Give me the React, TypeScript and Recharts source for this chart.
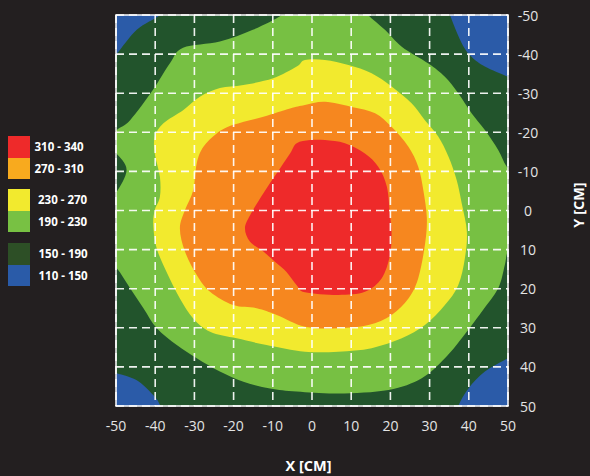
import { CartesianGrid, ReferenceArea, Scatter, ScatterChart, XAxis, YAxis } from 'recharts';

type Pt = { x: number; y: number };

const TICKS = [-50, -40, -30, -20, -10, 0, 10, 20, 30, 40, 50];

const LEGEND_LABELS = ['310 - 340', '270 - 310', '230 - 270', '190 - 230', '150 - 190', '110 - 150'];
const LEGEND_COLORS = ['#ee2a2a', '#f8aa1e', '#f2ea2e', '#78c143', '#2d4f26', '#2a5ba8'];

// contour outlines, [x cm, y cm], y grows downward like the chart
const PLATE: [number, number][] = [[-70, -70], [70, -70], [70, 70], [-70, 70]];

const CORNER_TL: [number, number][] = [[-53, -36.5], [-50, -39.8], [-44.7, -46.2], [-38.8, -50], [-36.8, -53], [-60, -60]];
const CORNER_TR: [number, number][] = [[34.5, -53], [35.2, -50], [38.2, -42.8], [40.7, -39.3], [44.1, -36.8], [50, -34.2], [53, -33], [60, -60]];
const CORNER_BR: [number, number][] = [[53, 36.5], [50, 37.8], [44.1, 41.2], [39.9, 45.5], [37.3, 50], [36.5, 53], [60, 60]];
const CORNER_BL: [number, number][] = [[-53, 40.8], [-49.8, 41.6], [-44.7, 43.4], [-40.5, 47.2], [-38.8, 49.7], [-37.8, 53], [-60, 60]];

const LEVEL_190: [number, number][] = [
  [-49.8, -20.6], [-46.4, -23.1], [-40.6, -30.8], [-36.2, -37.7], [-32.9, -41.6], [-23.5, -43.2],
  [-15.1, -46.2], [-7.7, -50], [-5, -53], [12, -53], [14.3, -50], [18.6, -46.2], [22.9, -41.9],
  [29.7, -37.6], [33.9, -34.2], [37.3, -30.0], [40.7, -24.9], [44.1, -20.6], [47.5, -15.5],
  [49.7, -11.2], [53, -8], [53, 8], [50, 10.5], [49.2, 13.9], [47.5, 19.9], [43.3, 25.9],
  [38.2, 32.7], [33.9, 37.8], [28.0, 42.9], [19.5, 45.9], [6.7, 46.8], [-3.9, 46.3], [-10.7, 45.5],
  [-17.5, 43.8], [-23.5, 41.2], [-29.4, 37.8], [-34.5, 34.4], [-39.6, 30.1], [-43.0, 25.0],
  [-46.4, 19.9], [-49.8, 14.8], [-53, 12], [-53, -2], [-50, -4.5], [-47.3, -10.4], [-50, -14.7], [-53, -17],
];

const LEVEL_230: [number, number][] = [
  [-1.8, -38.5], [3.3, -38.5], [9.3, -37.2], [15.2, -35.1], [20.3, -31.7], [25.4, -27.4], [28.8, -23.1],
  [32.2, -18.9], [34.8, -13.8], [36.9, -7.8], [38.2, -1.8], [39.5, 5.4], [39.0, 12.2], [37.3, 19.1],
  [33.9, 24.2], [28.8, 29.3], [22.9, 32.7], [15.2, 35.2], [6.7, 36.1], [-1.8, 36.1], [-11.6, 34.4],
  [-19.2, 32.7], [-26.0, 31.0], [-30.3, 27.6], [-33.7, 22.5], [-37.1, 15.7], [-39.6, 9.7], [-40.5, 3.7],
  [-40.1, -0.1], [-38.8, -3.5], [-38.8, -8.6], [-40.1, -14.6], [-40.1, -18.9], [-37.9, -22.3],
  [-32.8, -25.7], [-28.6, -29.1], [-23.5, -31.3], [-17.5, -32.1], [-9.9, -33.8], [-3.9, -36.8],
];

const LEVEL_270: [number, number][] = [
  [-1.8, -27.0], [3.3, -27.8], [10.1, -26.5], [16.1, -24.9], [20.3, -21.4], [24.6, -16.3], [27.1, -11.2],
  [28.4, -5.2], [29.3, 2.0], [28.8, 8.8], [27.1, 17.3], [24.6, 22.5], [20.3, 26.7], [14.4, 29.3],
  [6.7, 30.1], [-1.8, 29.7], [-9.0, 26.7], [-14.1, 25.0], [-20.1, 24.2], [-26.0, 20.8], [-29.4, 16.5],
  [-32.4, 10.5], [-33.7, 4.6], [-32.4, -0.1], [-30.3, -5.2], [-29.4, -12.1], [-27.7, -16.3],
  [-24.3, -19.7], [-20.1, -21.9], [-12.4, -24.0], [-5.6, -26.1],
];

const LEVEL_310: [number, number][] = [
  [-0.5, -18.0], [3.3, -18.0], [8.4, -17.2], [13.5, -14.6], [16.9, -11.2], [19.1, -6.1], [19.9, 1.2],
  [20.3, 5.4], [19.9, 11.4], [17.8, 17.3], [13.5, 20.8], [6.7, 21.6], [-1.8, 20.9], [-3.9, 19.1],
  [-6.5, 15.7], [-9.0, 13.5], [-12.4, 10.5], [-15.8, 8.0], [-17.1, 4.6], [-15.8, 1.2], [-12.4, -4.4],
  [-9.0, -9.5], [-5.6, -14.6], [-3.9, -17.2],
];

const toPts = (arr: [number, number][]): Pt[] => arr.map(([x, y]) => ({ x, y }));

const LAYERS = [
  { key: 'plate', pts: PLATE, color: '#22542c', smooth: false },
  { key: 'tl', pts: CORNER_TL, color: '#2b5ba8', smooth: true },
  { key: 'tr', pts: CORNER_TR, color: '#2b5ba8', smooth: true },
  { key: 'br', pts: CORNER_BR, color: '#2b5ba8', smooth: true },
  { key: 'bl', pts: CORNER_BL, color: '#2b5ba8', smooth: true },
  { key: 'l190', pts: LEVEL_190, color: '#77c043', smooth: true },
  { key: 'l230', pts: LEVEL_230, color: '#f2ea2e', smooth: true },
  { key: 'l270', pts: LEVEL_270, color: '#f6871f', smooth: true },
  { key: 'l310', pts: LEVEL_310, color: '#ee2a2a', smooth: true },
];

// closed catmull-rom through the scaled points
function closedPath(pts: Pt[], smooth: boolean) {
  const n = pts.length;
  if (!smooth) return 'M' + pts.map((p) => `${p.x},${p.y}`).join('L') + 'Z';
  let d = `M${pts[0].x},${pts[0].y}`;
  for (let i = 0; i < n; i++) {
    const p0 = pts[(i - 1 + n) % n];
    const p1 = pts[i];
    const p2 = pts[(i + 1) % n];
    const p3 = pts[(i + 2) % n];
    const c1x = p1.x + (p2.x - p0.x) / 6;
    const c1y = p1.y + (p2.y - p0.y) / 6;
    const c2x = p2.x - (p3.x - p1.x) / 6;
    const c2y = p2.y - (p3.y - p1.y) / 6;
    d += ` C${c1x},${c1y} ${c2x},${c2y} ${p2.x},${p2.y}`;
  }
  return d + 'Z';
}

const FONT = '"Open Sans", sans-serif';

const XTick = ({ x, y, payload }: any) => (
  <text x={x} y={y} textAnchor="middle" dominantBaseline="central" fill="#e4e4e4" fontSize={14} fontFamily={FONT}>
    {payload.value}
  </text>
);

const YTick = ({ x, y, payload }: any) => (
  <text x={x} y={y} textAnchor="middle" dominantBaseline="central" fill="#e4e4e4" fontSize={14} fontFamily={FONT}>
    {payload.value}
  </text>
);

const GROUP_LEFT = [34.5, 38, 38.5];
const GROUP_TOP = [136, 189, 243];

export default function App() {
  return (
    <div style={{ position: 'absolute', left: 0, top: 0, width: 590, height: 476, background: '#231f20', fontFamily: FONT, overflow: 'hidden' }}>
      <ScatterChart width={590} height={476} margin={{ top: 15, right: 42, bottom: 40, left: 116 }}>
        <XAxis
          type="number"
          dataKey="x"
          domain={[-50, 50]}
          ticks={TICKS}
          allowDataOverflow
          axisLine={false}
          tickLine={false}
          tickSize={0}
          tickMargin={19}
          height={30}
          tick={<XTick />}
        />
        <YAxis
          type="number"
          dataKey="y"
          orientation="right"
          reversed
          domain={[-50, 50]}
          ticks={TICKS}
          allowDataOverflow
          axisLine={false}
          tickLine={false}
          tickSize={0}
          tickMargin={20}
          width={40}
          tick={<YTick />}
        />
        {LAYERS.map((l) => (
          <Scatter
            key={l.key}
            data={toPts(l.pts)}
            isAnimationActive={false}
            shape={() => <g />}
            lineType="joint"
            line={(p: any) => <path d={closedPath(p.points, l.smooth)} fill={l.color} stroke="none" />}
          />
        ))}
        <CartesianGrid
          stroke="#ffffff"
          strokeOpacity={0.92}
          strokeWidth={1.6}
          strokeDasharray="8 5"
          zIndex={1000}
        />
        <ReferenceArea
          x1={-50}
          x2={50}
          y1={-50}
          y2={50}
          fill="none"
          fillOpacity={0}
          stroke="#ffffff"
          strokeWidth={1.5}
          ifOverflow="visible"
          zIndex={1100}
        />
      </ScatterChart>

      {LEGEND_LABELS.map((label, i) => {
        const g = Math.floor(i / 2);
        const top = GROUP_TOP[g] + (i % 2) * 21.5;
        return (
          <div key={label}>
            <div style={{ position: 'absolute', left: 8, top, width: 22, height: 21.5, background: LEGEND_COLORS[i] }} />
            <div
              style={{
                position: 'absolute',
                left: GROUP_LEFT[g],
                top,
                height: 21.5,
                lineHeight: '21.5px',
                color: '#ffffff',
                fontSize: 11.5,
                fontWeight: 700,
                whiteSpace: 'nowrap',
              }}
            >
              {label}
            </div>
          </div>
        );
      })}

      <div
        style={{
          position: 'absolute',
          left: 308.5,
          top: 466,
          transform: 'translate(-50%, -50%)',
          color: '#ffffff',
          fontSize: 14.5,
          lineHeight: '14px',
          fontWeight: 700,
          whiteSpace: 'nowrap',
        }}
      >
        X [CM]
      </div>
      <div
        style={{
          position: 'absolute',
          left: 579,
          top: 205,
          transform: 'translate(-50%, -50%) rotate(-90deg)',
          color: '#ffffff',
          fontSize: 14.5,
          lineHeight: '14px',
          fontWeight: 700,
          whiteSpace: 'nowrap',
        }}
      >
        Y [CM]
      </div>
    </div>
  );
}
